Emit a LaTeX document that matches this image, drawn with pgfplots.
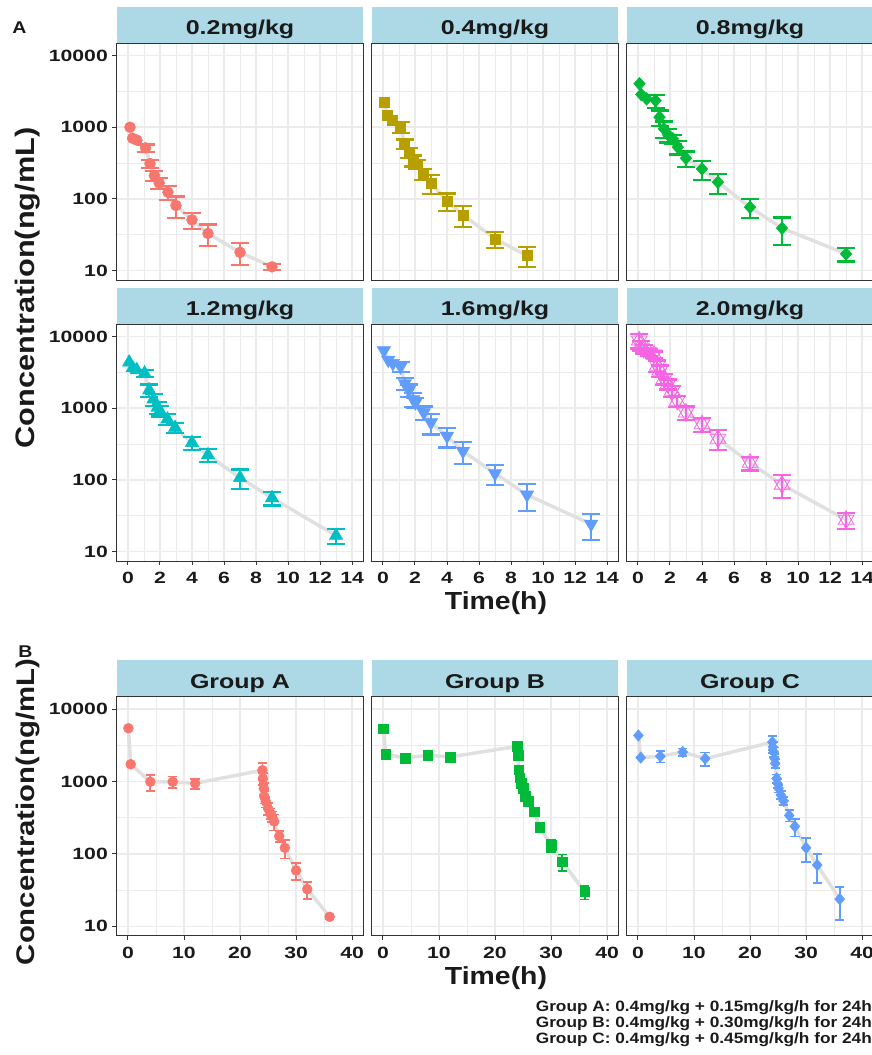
\documentclass[border=0pt]{standalone}
\usepackage{fontspec}
\setmainfont{Liberation Sans}[FakeStretch=1.15]
\newfontfamily\tickf{Liberation Sans}[FakeStretch=1.3]
\newfontfamily\stripf{Liberation Sans}[FakeStretch=1.25]
\newfontfamily\labf{Liberation Sans}[FakeStretch=1.15]
\usepackage{pgfplots}
\usepackage{pgfplotstable}
\pgfplotsset{compat=1.18}

\definecolor{c1}{HTML}{F8766D}
\definecolor{c2}{HTML}{B79F00}
\definecolor{c3}{HTML}{00BA38}
\definecolor{c4}{HTML}{00BFC4}
\definecolor{c5}{HTML}{619CFF}
\definecolor{c6}{HTML}{F564E3}
\definecolor{stripc}{HTML}{ADD8E6}
\definecolor{gridc}{HTML}{EBEBEB}
\definecolor{framec}{HTML}{333333}
\definecolor{linec}{HTML}{E0E0E0}
\definecolor{txt}{HTML}{1A1A1A}
\tikzset{tk/.style={framec, line width=0.9pt}}

% ---------- data: t = time (h), c = mean concentration (ng/mL), e = SD ----------
\pgfplotstableread{
t c e
0.13 1000 0
0.29 700 0
0.56 660 0
1.1 515 60
1.38 311 40
1.65 212 33
1.95 167 30
2.5 124 28
3.0 81 27
4.0 51 13
5.0 33 11
7.0 18 6
9.0 11.3 1
}\tabA
\pgfplotstableread{
t c e
0.10 2234 0
0.29 1455 0
0.58 1239 0
1.10 1000 170
1.35 585 90
1.62 438 70
1.89 343 60
2.14 308 45
2.49 223 40
3.0 167 50
4.0 93 26
5.0 60 19
7.0 27.7 7
9.0 16.2 5
}\tabB
\pgfplotstableread{
t c e
0.10 4030 0
0.21 2860 0
0.54 2485 0
1.10 2355 480
1.35 1380 330
1.62 948 250
1.89 782 170
2.18 688 100
2.49 526 110
3.0 369 90
4.0 262 80
5.0 171 53
7.0 76.6 23
9.0 39 16
13.0 17.1 3.7
}\tabC
\pgfplotstableread{
t c e
0.08 4370 0
0.3 3640 0
0.55 3410 0
1.04 3063 350
1.33 1787 360
1.6 1336 260
1.85 1021 200
2.0 918 150
2.47 701 120
2.95 536 90
4.0 330 70
5.0 222 45
7.0 107 33
9.0 56 12
13.0 16.7 4
}\tabD
\pgfplotstableread{
t c e
0.06 6370 0
0.33 4710 0
0.62 4230 0
1.10 3800 600
1.37 2215 400
1.62 1787 350
1.89 1336 290
2.03 1200 200
2.55 869 190
3.0 630 200
4.0 409 125
5.0 252 85
7.0 123 39
9.0 62 25
13.0 24.2 9.5
}\tabE
\pgfplotstableread{
t c e
0.08 8790 2000
0.17 7480 1200
0.37 6710 900
0.69 6030 700
1.0 5590 600
1.21 3920 700
1.37 3335 600
1.62 2550 450
1.87 2170 350
2.14 1750 300
2.45 1268 220
3.0 869 190
4.0 597 130
5.0 376 115
7.0 173 38
9.0 86 30
13.0 27.8 7
}\tabF
\pgfplotstableread{
t c e
0.083 5430 0
0.5 1726 0
4 988 250
8 988 180
12 940 150
24 1428 390
24.083 1099 200
24.25 802 150
24.33 617 120
24.6 526 90
25 426 80
25.4 364 60
25.7 330 55
26.1 280 70
27 175 30
28 121 35
30 59 15
32 32.5 8.5
36 13.5 1
}\tabG
\pgfplotstableread{
t c e
0.083 5320 0
0.5 2365 0
4 2108 0
8 2294 0
12 2180 0
24 3050 0
24.05 2685 0
24.1 2294 0
24.2 1460 0
24.4 1122 0
24.7 940 0
25 802 100
25.4 630 80
25.9 538 60
27 384 50
28 234 30
30 131 25
32 78 20
36 29.9 6.5
}\tabH
\pgfplotstableread{
t c e
0.083 4310 0
0.5 2134 0
4 2225 400
8 2548 300
12 2064 450
24 3492 800
24.083 2983 500
24.25 2548 400
24.4 2064 300
24.5 1767 250
24.75 1099 150
24.9 940 120
25.1 802 100
25.5 650 80
26 538 70
27 339 60
28 239 65
30 121 44
32 70 30
36 23.7 11.5
}\tabI

\pgfplotsset{
  pnlbase/.style={
    scale only axis, width=246.6pt,
    ymin=7.4, ymax=14800,
    ytick={10,100,1000,10000}, minor ytick={31.62,316.2,3162},
    yticklabels={10,100,1000,10000},
    grid=both,
    major grid style={gridc, line width=1.4pt},
    minor grid style={gridc, line width=0.8pt},
    axis line style={framec, line width=0.9pt},
    major tick length=0pt, minor tick length=0pt,
    clip=false,
    tick label style={font=\tickf\bfseries\fontsize{16.3}{18}\selectfont, text=txt},
    yticklabel style={anchor=east, inner sep=0pt, xshift=-8.7pt},
    xticklabel style={anchor=north, inner sep=0pt, yshift=-11pt},
    every axis title/.style={at={(0.5,1)}, anchor=south, fill=stripc, inner sep=0pt,
      minimum width=246.6pt, text height=27.7pt, text depth=8.3pt,
      font=\stripf\bfseries\fontsize{20}{20}\selectfont, text=txt},
    anchor=south west,
  },
  pnlrowA/.style={height=236.7pt, xmin=-0.7, xmax=14.7,
    xtick={0,2,...,14}, minor xtick={1,3,...,13},
    xticklabels={0,2,4,6,8,10,12,14}},
  pnlrowB/.style={height=239pt, xmin=-2, xmax=42,
    xtick={0,10,20,30,40}, minor xtick={5,15,25,35},
    xticklabels={0,10,20,30,40}},
  pnlnoxl/.style={xticklabels={}},
  pnlnoyl/.style={yticklabels={}},
}

% #1 table, #2 colour, #3 marker options, #4 cap half width, #5 bar width, #6 rows without error bar
\newcommand{\drawseries}[6]{%
  \addplot[linec, line width=3.5pt, no marks, forget plot] table[x=t,y=c]{#1};
  \addplot[draw=none, mark=none, forget plot,
    skip coords between index={0}{#6},
    error bars/.cd, y dir=both, y explicit,
    error bar style={draw=#2, line width=#5},
    error mark options={draw=#2, rotate=90, mark size=#4, line width=#5}]
    table[x=t,y=c,y error=e]{#1};
  \addplot[only marks, #3] table[x=t,y=c]{#1};
}

\begin{document}
\begin{tikzpicture}[x=1pt,y=1pt]
\path[use as bounding box] (0,0) rectangle (872,1055);

% ---------------- Panel A, row 1 ----------------
\begin{axis}[ymode=log, pnlbase, pnlrowA, pnlnoxl, at={(116.7pt,775pt)}, title={0.2mg/kg}]
\drawseries{\tabA}{c1}{c1, mark=*, mark size=5.5pt}{9pt}{2.2pt}{3}
\pgfplotsinvokeforeach{10,100,1000,10000}{\draw[tk] (axis cs:-0.7,#1) -- ++(-4.5pt,0pt);}
\end{axis}
\begin{axis}[ymode=log, pnlbase, pnlrowA, pnlnoxl, pnlnoyl, at={(371.7pt,775pt)}, title={0.4mg/kg}]
\drawseries{\tabB}{c2}{c2, mark=square*, mark size=5pt}{9pt}{2.2pt}{3}
\end{axis}
\begin{axis}[ymode=log, pnlbase, pnlrowA, pnlnoxl, pnlnoyl, at={(626.7pt,775pt)}, title={0.8mg/kg}]
\drawseries{\tabC}{c3}{c3, mark=diamond*, mark size=6.5pt, mark options={xscale=1.2}}{9pt}{2.2pt}{3}
\end{axis}

% ---------------- Panel A, row 2 ----------------
\begin{axis}[ymode=log, pnlbase, pnlrowA, at={(116.7pt,494pt)}, title={1.2mg/kg}]
\drawseries{\tabD}{c4}{c4, mark=triangle*, mark size=7.8pt}{9pt}{2.2pt}{3}
\pgfplotsinvokeforeach{10,100,1000,10000}{\draw[tk] (axis cs:-0.7,#1) -- ++(-4.5pt,0pt);}
\pgfplotsinvokeforeach{0,2,...,14}{\draw[tk] (axis cs:#1,7.4) -- ++(0pt,-4.5pt);}
\end{axis}
\begin{axis}[ymode=log, pnlbase, pnlrowA, pnlnoyl, at={(371.7pt,494pt)}, title={1.6mg/kg}]
\drawseries{\tabE}{c5}{c5, mark=triangle*, mark size=7.8pt, mark options={rotate=180}}{9pt}{2.2pt}{3}
\pgfplotsinvokeforeach{0,2,...,14}{\draw[tk] (axis cs:#1,7.4) -- ++(0pt,-4.5pt);}
\end{axis}
\begin{axis}[ymode=log, pnlbase, pnlrowA, pnlnoyl, at={(626.7pt,494pt)}, title={2.0mg/kg}]
\drawseries{\tabF}{c6}{c6, mark=triangle, mark size=9pt, mark options={line width=0.8pt}}{9pt}{2.2pt}{0}
\addplot[only marks, c6, mark=triangle, mark size=9pt, mark options={line width=0.8pt, rotate=180}] table[x=t,y=c]{\tabF};
\pgfplotsinvokeforeach{0,2,...,14}{\draw[tk] (axis cs:#1,7.4) -- ++(0pt,-4.5pt);}
\end{axis}

% ---------------- Panel B ----------------
\begin{axis}[ymode=log, pnlbase, pnlrowB, at={(116.7pt,119.3pt)}, title={Group A}]
\drawseries{\tabG}{c1}{c1, mark=*, mark size=5pt}{4.7pt}{1.8pt}{2}
\pgfplotsinvokeforeach{10,100,1000,10000}{\draw[tk] (axis cs:-2,#1) -- ++(-4.5pt,0pt);}
\pgfplotsinvokeforeach{0,10,...,40}{\draw[tk] (axis cs:#1,7.4) -- ++(0pt,-4.5pt);}
\end{axis}
\begin{axis}[ymode=log, pnlbase, pnlrowB, pnlnoyl, at={(371.7pt,119.3pt)}, title={Group B}]
\drawseries{\tabH}{c3}{c3, mark=square*, mark size=4.8pt}{4.7pt}{1.8pt}{11}
\pgfplotsinvokeforeach{0,10,...,40}{\draw[tk] (axis cs:#1,7.4) -- ++(0pt,-4.5pt);}
\end{axis}
\begin{axis}[ymode=log, pnlbase, pnlrowB, pnlnoyl, at={(626.7pt,119.3pt)}, title={Group C}]
\drawseries{\tabI}{c5}{c5, mark=diamond*, mark size=5.8pt, mark options={xscale=1.15}}{4.7pt}{1.8pt}{2}
\pgfplotsinvokeforeach{0,10,...,40}{\draw[tk] (axis cs:#1,7.4) -- ++(0pt,-4.5pt);}
\end{axis}

% ---------------- labels ----------------
\node[font=\labf\bfseries\fontsize{17}{17}\selectfont, text=txt] at (19.5,1027.5) {A};
\node[font=\labf\bfseries\fontsize{17}{17}\selectfont, text=txt] at (25.5,403) {B};
\node[rotate=90, anchor=base, font=\labf\bfseries\fontsize{26.7}{28}\selectfont, text=txt] at (34.3,767) {Concentration(ng/mL)};
\node[rotate=90, anchor=base, font=\labf\bfseries\fontsize{25.5}{27}\selectfont, text=txt] at (34.3,243) {Concentration(ng/mL)};
\node[anchor=base, font=\labf\bfseries\fontsize{24.7}{26}\selectfont, text=txt] at (496,445.4) {Time(h)};
\node[anchor=base, font=\labf\bfseries\fontsize{24.7}{26}\selectfont, text=txt] at (496,70.7) {Time(h)};
\node[anchor=base east, font=\labf\bfseries\fontsize{15}{15}\selectfont, text=txt, inner sep=0pt] at (872,43.3) {Group A: 0.4mg/kg + 0.15mg/kg/h for 24h};
\node[anchor=base east, font=\labf\bfseries\fontsize{15}{15}\selectfont, text=txt, inner sep=0pt] at (872,27.3) {Group B: 0.4mg/kg + 0.30mg/kg/h for 24h};
\node[anchor=base east, font=\labf\bfseries\fontsize{15}{15}\selectfont, text=txt, inner sep=0pt] at (872,11.7) {Group C: 0.4mg/kg + 0.45mg/kg/h for 24h};
\end{tikzpicture}
\end{document}
